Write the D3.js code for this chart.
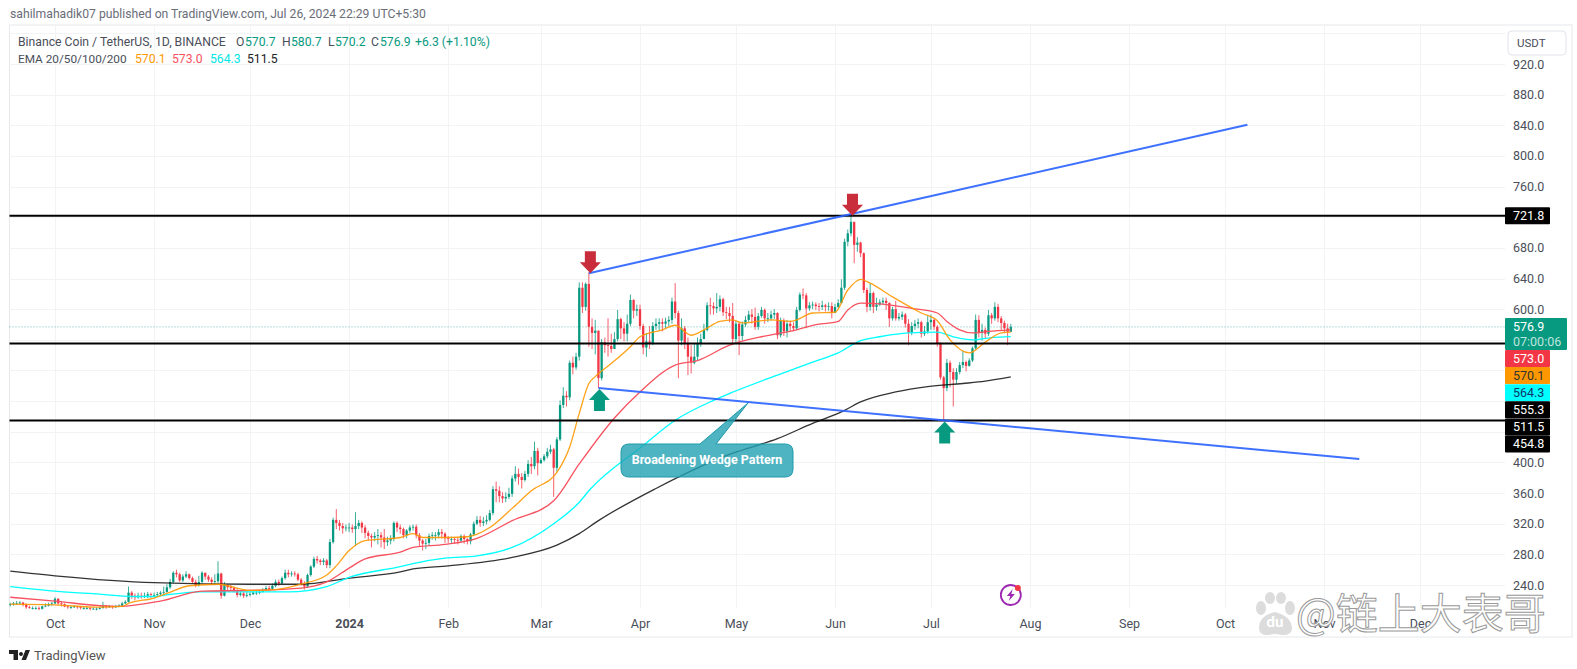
<!DOCTYPE html>
<html>
<head>
<meta charset="utf-8">
<script src="https://cdn.jsdelivr.net/npm/d3@7"></script>
<style>
  html, body { margin: 0; padding: 0; background: #fff; }
  text { font-family: Roboto, "Open Sans", sans-serif; }
</style>
</head>
<body>
<div id="chart"></div>
<script>
// daily candles, Sep 17 2023 to Jul 26 2024
var firstDay = "2023-09-17";
var firstOpen = 214;

var closes = [
  215,216,216,217,214,211,210,210,210,209,212,213,215,216,
  222,216,215,212,211,211,212,211,210,210,210,209,209,209,210,213,211,212,211,212,213,216,218,230,226,224,226,225,226,228,227,
  227,228,230,231,237,244,256,254,246,251,254,249,244,240,244,256,251,247,244,245,255,226,240,237,236,233,227,229,226,227,
  228,230,230,231,233,236,235,239,244,242,249,256,254,255,254,247,242,238,253,264,274,272,270,272,266,296,325,321,317,314,315,
  315,313,317,321,315,308,304,302,304,305,302,296,298,300,321,315,313,305,311,315,316,305,298,294,295,304,305,305,309,307,301,
  300,300,299,298,304,300,297,306,320,325,321,323,325,334,365,363,356,353,355,359,379,385,381,377,385,398,395,415,399,
  403,408,414,417,393,430,475,487,485,530,524,538,628,603,633,577,569,572,510,557,553,552,548,561,587,575,568,581,612,598,600,
  578,550,558,556,578,581,583,581,584,586,610,595,559,575,555,538,530,538,555,561,573,605,604,601,603,613,596,595,591,561,
  581,565,580,586,593,590,577,591,599,588,588,593,595,566,585,571,581,578,575,599,619,618,601,605,606,604,603,605,603,604,595,
  603,608,628,688,699,714,684,687,673,625,603,621,603,606,609,611,608,588,600,588,590,593,581,569,578,581,583,568,571,583,
  586,577,555,511,497,530,518,508,518,527,531,526,533,549,586,569,573,568,592,588,603,588,582,575,570.6,576.9
];

var highs = [
  217,218,219,219,218,216,213,212,212,212,213,216,217,218,
  224,223,218,216,214,213,214,213,212,212,212,211,211,211,212,218,214,214,213,214,215,218,220,238,232,229,230,230,230,231,230,
  230,231,232,238,241,248,258,260,256,254,258,255,251,247,252,258,256,253,250,254,271,256,244,241,240,238,236,233,232,232,
  232,233,233,234,236,239,239,242,247,247,251,260,260,258,258,256,249,245,255,266,277,278,274,275,274,300,328,339,325,321,319,
  321,319,335,325,323,318,311,307,309,313,309,313,303,305,323,323,319,315,313,318,319,319,308,300,300,307,309,309,313,313,309,
  304,303,302,302,306,306,301,308,323,330,330,329,331,338,369,375,369,361,361,367,383,395,392,386,389,403,407,427,419,
  406,411,419,423,419,433,481,498,493,533,538,543,635,635,635,648,588,586,560,561,563,588,568,570,599,589,583,593,619,613,606,
  606,581,569,578,583,588,588,588,589,591,615,634,598,588,578,563,553,555,563,568,581,609,615,609,621,618,615,603,603,608,
  585,583,584,591,598,600,602,595,603,601,595,598,600,596,589,588,586,585,583,603,622,627,621,609,610,609,608,611,607,609,609,
  607,613,639,692,704,721.8,713,694,688,674,628,634,623,615,613,615,615,609,603,611,595,597,595,587,583,586,588,585,578,591,
  593,588,579,557,513,535,533,523,523,531,546,533,536,551,593,592,581,576,599,595,609,607,591,585,581,580.7
];

var lows = [
  212,213,214,214,212,209,209,208,208,207,208,211,212,213,
  215,214,212,211,209,209,210,209,208,208,208,207,208,207,208,209,209,210,209,210,211,212,215,217,222,220,222,222,223,223,223,
  224,225,227,228,230,235,242,250,244,244,249,247,242,237,238,242,247,244,240,241,242,222,225,233,233,230,224,225,223,224,
  225,227,227,228,230,232,232,234,237,239,241,247,250,251,251,245,239,234,236,251,262,268,266,266,262,262,294,313,311,307,310,
  309,308,291,313,308,301,298,289,297,293,289,287,291,293,297,309,307,301,301,308,311,301,291,285,287,291,299,298,301,301,295,
  295,295,294,293,295,294,293,293,304,318,316,317,319,323,331,348,348,347,348,352,355,375,371,366,375,381,385,391,383,
  398,401,405,411,355,388,428,471,473,481,515,521,533,595,598,551,548,541,497,507,543,538,543,552,558,561,558,558,578,588,591,
  573,541,538,548,553,573,573,571,575,578,581,588,510,553,548,514,516,528,533,551,565,571,593,593,595,597,591,587,583,553,
  556,540,559,577,583,581,573,573,589,581,583,585,587,561,563,565,563,571,571,573,597,613,575,598,600,599,597,599,597,598,588,
  599,601,607,625,682,695,660,675,668,621,596,598,595,598,604,606,599,577,585,585,585,586,576,553,566,573,575,563,565,568,
  573,573,551,508,455,493,498,473,503,515,523,519,525,531,547,563,559,561,565,581,585,583,573,569,553,570.2
];

// EMA lines, read at the dates where the picture was measured
var ema20 = [["2023-09-17",215],["2023-10-01",214],["2023-10-15",211],["2023-10-22",212],["2023-10-24",216],["2023-11-01",223],["2023-11-05",229],["2023-11-12",239],["2023-11-21",241],["2023-12-01",233],["2023-12-09",234],["2023-12-17",241],["2023-12-25",253],["2023-12-28",265],["2024-01-01",285],["2024-01-06",298],["2024-01-17",302],["2024-01-21",307],["2024-01-24",302],["2024-02-01",302],["2024-02-07",303],["2024-02-14",315],["2024-02-21",340],["2024-02-27",363],["2024-03-06",387],["2024-03-10",420],["2024-03-13",464],["2024-03-16",503],["2024-03-18",512],["2024-03-23",529],["2024-03-29",551],["2024-04-01",564],["2024-04-08",573],["2024-04-12",579],["2024-04-17",566],["2024-04-21",573],["2024-04-26",584],["2024-04-30",586],["2024-05-03",582],["2024-05-12",586],["2024-05-18",584],["2024-05-20",586],["2024-05-25",595],["2024-06-01",596],["2024-06-05",625],["2024-06-09",639],["2024-06-12",634],["2024-06-19",616],["2024-06-28",595],["2024-07-03",585],["2024-07-07",560],["2024-07-13",543],["2024-07-18",557],["2024-07-23",569],["2024-07-26",570.1]];

var ema50 = [["2023-09-17",224],["2023-10-01",219],["2023-10-15",213],["2023-10-21",212],["2023-11-03",219],["2023-11-16",232],["2023-12-01",233],["2023-12-17",236],["2023-12-25",244],["2024-01-01",262],["2024-01-06",274],["2024-01-17",283],["2024-01-21",289],["2024-01-31",293],["2024-02-10",301],["2024-02-21",324],["2024-03-05",350],["2024-03-13",398],["2024-03-24",458],["2024-04-01",492],["2024-04-12",527],["2024-04-19",533],["2024-04-29",553],["2024-05-09",564],["2024-05-14",568],["2024-05-20",573],["2024-05-25",579],["2024-06-02",584],["2024-06-05",599],["2024-06-09",608],["2024-06-15",607],["2024-06-25",601],["2024-07-03",595],["2024-07-06",584],["2024-07-10",573],["2024-07-14",569],["2024-07-19",571],["2024-07-26",573]];

var ema100 = [["2023-09-17",238],["2023-10-01",232],["2023-10-15",228],["2023-10-25",225],["2023-11-01",225],["2023-11-05",227],["2023-11-15",231],["2023-12-01",231],["2023-12-13",231],["2023-12-25",238],["2024-01-01",250],["2024-01-17",264],["2024-01-21",268],["2024-01-31",275],["2024-02-10",278],["2024-02-21",289],["2024-03-05",320],["2024-03-13",348],["2024-03-16",363],["2024-04-02",422],["2024-04-12",455],["2024-04-24",481],["2024-04-29",490],["2024-05-14",514],["2024-05-25",531],["2024-06-02",543],["2024-06-09",559],["2024-06-15",564],["2024-06-24",569],["2024-07-03",570],["2024-07-08",564],["2024-07-14",560],["2024-07-20",563],["2024-07-26",564.3]];

var ema200 = [["2023-09-17",258],["2023-10-01",252],["2023-11-01",243],["2023-12-01",241],["2023-12-17",241],["2024-01-01",249],["2024-01-17",257],["2024-01-21",261],["2024-02-01",265],["2024-02-21",276],["2024-03-06",292],["2024-03-13",307],["2024-03-19",324],["2024-04-06",366],["2024-04-30",412],["2024-05-14",431],["2024-05-25",451],["2024-06-04",468],["2024-06-09",479],["2024-06-20",492],["2024-06-30",499],["2024-07-11",503],["2024-07-18",506],["2024-07-26",511.5]];

var priceTicks = [240,280,320,360,400,440,480,520,560,600,640,680,720,760,800,840,880,920,960];
var axisHidden = [440,480,520,560,720,960];
var monthDates = ["2023-10-01","2023-11-01","2023-12-01","2024-01-01","2024-02-01","2024-03-01","2024-04-01","2024-05-01","2024-06-01","2024-07-01","2024-08-01","2024-09-01","2024-10-01","2024-11-01","2024-12-01"];
var monthLabels = ["Oct","Nov","Dec","2024","Feb","Mar","Apr","May","Jun","Jul","Aug","Sep","Oct","Nov","Dec"];

var levels = [721.8, 555.3, 454.8];
var lastPrice = 576.9;
var emaTagValues = [573.0, 570.1, 564.3, 555.3, 511.5, 454.8];
var emaTagFill = ["#f23645","#ff9800","#00ffff","#000","#000","#000"];
var emaTagText = ["#fff","#333","#136","#fff","#fff","#fff"];

var upperLine = [["2024-03-16",647],["2024-10-08",840.7]];
var lowerLine = [["2024-03-19",497],["2024-11-12",404.4]];
var downArrows = [["2024-03-16",647],["2024-06-06",722]];
var upArrows = [["2024-03-19",497],["2024-07-05",454.8]];

var width = 1577, height = 669;
var plotLeft = 9.5, plotRight = 1505, plotTop = 25, plotBottom = 608;

var green = "#089981", red = "#f23645";
var parseDay = d3.utcParse("%Y-%m-%d");

var svg = d3.select("#chart")
  .append("svg")
    .attr("width", width)
    .attr("height", height)
    .style("display", "block");

var x = d3.scaleUtc()
  .domain([parseDay("2023-10-01"), parseDay("2024-12-01")])
  .range([55, 1420]);

var y = d3.scaleLinear()
  .domain([240, 920])
  .range([585, 64]);

// frame
svg.append("rect")
  .attr("x", plotLeft).attr("y", plotTop)
  .attr("width", 1572 - plotLeft).attr("height", 637 - plotTop)
  .attr("fill", "none").attr("stroke", "#e6e8ec");

// grid
svg.append("g").selectAll("line")
  .data(priceTicks)
  .enter().append("line")
    .attr("x1", plotLeft).attr("x2", plotRight)
    .attr("y1", function(d) { return Math.round(y(d)) + 0.5; })
    .attr("y2", function(d) { return Math.round(y(d)) + 0.5; })
    .attr("stroke", "#f2f3f5");

svg.append("g").selectAll("line")
  .data(monthDates)
  .enter().append("line")
    .attr("x1", function(d) { return Math.round(x(parseDay(d))) + 0.5; })
    .attr("x2", function(d) { return Math.round(x(parseDay(d))) + 0.5; })
    .attr("y1", plotTop).attr("y2", plotBottom)
    .attr("stroke", "#f2f3f5");

// X axis
var timeAxis = svg.append("g")
  .attr("transform", "translate(0," + plotBottom + ")")
  .call(d3.axisBottom(x)
    .tickValues(monthDates.map(parseDay))
    .tickSize(0)
    .tickPadding(11)
    .tickFormat(function(d, i) { return monthLabels[i]; }));
timeAxis.select(".domain").remove();
timeAxis.selectAll("text")
  .attr("fill", "#4a4e59")
  .style("font-size", "12.5px")
  .style("font-family", "Roboto, sans-serif")
  .style("font-weight", function(d, i) { return monthLabels[i] === "2024" ? "700" : "400"; });

// Y axis
var priceAxis = svg.append("g")
  .attr("transform", "translate(" + plotRight + ",0)")
  .call(d3.axisRight(y)
    .tickValues(priceTicks.filter(function(d) { return axisHidden.indexOf(d) < 0; }))
    .tickSize(0)
    .tickPadding(8)
    .tickFormat(d3.format(".1f")));
priceAxis.select(".domain").remove();
priceAxis.selectAll("text")
  .attr("fill", "#4a4e59")
  .style("font-size", "12.5px")
  .style("font-family", "Roboto, sans-serif");

// last price dots
svg.append("line")
  .attr("x1", plotLeft).attr("x2", plotRight)
  .attr("y1", y(lastPrice)).attr("y2", y(lastPrice))
  .attr("stroke", green).attr("stroke-opacity", 0.6)
  .attr("stroke-dasharray", "1 2");

// candles
var candles = closes.map(function(c, i) {
  return {
    day: d3.utcDay.offset(parseDay(firstDay), i),
    open: i === 0 ? firstOpen : closes[i - 1],
    close: c,
    high: highs[i],
    low: lows[i]
  };
});

var candle = svg.append("g").selectAll("g")
  .data(candles)
  .enter().append("g");

candle.append("line")
  .attr("x1", function(d) { return x(d.day); })
  .attr("x2", function(d) { return x(d.day); })
  .attr("y1", function(d) { return y(Math.max(d.high, d.open, d.close)); })
  .attr("y2", function(d) { return y(Math.min(d.low, d.open, d.close)); })
  .attr("stroke", function(d) { return d.close >= d.open ? green : red; })
  .attr("stroke-width", 0.8);

candle.append("rect")
  .attr("x", function(d) { return x(d.day) - 1.15; })
  .attr("width", 2.3)
  .attr("y", function(d) { return y(Math.max(d.open, d.close)); })
  .attr("height", function(d) { return Math.max(0.8, Math.abs(y(d.open) - y(d.close))); })
  .attr("fill", function(d) { return d.close >= d.open ? green : red; });

// EMAs
var emaLine = d3.line()
  .curve(d3.curveMonotoneX)
  .x(function(d) { return x(parseDay(d[0])); })
  .y(function(d) { return y(d[1]); });

svg.append("path").attr("d", emaLine(ema200)).attr("fill", "none").attr("stroke", "#000").attr("stroke-opacity", 0.8).attr("stroke-width", 1.3);
svg.append("path").attr("d", emaLine(ema100)).attr("fill", "none").attr("stroke", "#00ffff").attr("stroke-width", 1.3);
svg.append("path").attr("d", emaLine(ema50)).attr("fill", "none").attr("stroke", "#f7525f").attr("stroke-width", 1.3);
svg.append("path").attr("d", emaLine(ema20)).attr("fill", "none").attr("stroke", "#ff9800").attr("stroke-opacity", 0.9).attr("stroke-width", 1.3);

// horizontal levels
svg.append("g").selectAll("line")
  .data(levels)
  .enter().append("line")
    .attr("x1", plotLeft).attr("x2", plotRight)
    .attr("y1", function(d) { return y(d); })
    .attr("y2", function(d) { return y(d); })
    .attr("stroke", "#000")
    .attr("stroke-width", 2);

// wedge lines
var straight = d3.line()
  .x(function(d) { return x(parseDay(d[0])); })
  .y(function(d) { return y(d[1]); });

[upperLine, lowerLine].forEach(function(l) {
  svg.append("path")
    .attr("d", straight(l))
    .attr("fill", "none")
    .attr("stroke", "#2962ff")
    .attr("stroke-opacity", 0.9)
    .attr("stroke-width", 2);
});

// arrows, tip on the anchor point
var arrowShape = "M0,0 L-10.5,-11 L-5.5,-11 L-5.5,-22 L5.5,-22 L5.5,-11 L10.5,-11 Z";
svg.append("g").selectAll("path")
  .data(downArrows)
  .enter().append("path")
    .attr("d", arrowShape)
    .attr("fill", "#c92c3a")
    .attr("transform", function(d) { return "translate(" + (x(parseDay(d[0])) + 1.5) + "," + y(d[1]) + ")"; });
svg.append("g").selectAll("path")
  .data(upArrows)
  .enter().append("path")
    .attr("d", arrowShape)
    .attr("fill", green)
    .attr("transform", function(d) { return "translate(" + (x(parseDay(d[0])) + 1) + "," + (y(d[1]) + 1) + ") scale(1,-1)"; });

// callout
svg.append("path")
  .attr("d", "M629,444 H700 L748,403 L716,444 H785 Q793,444 793,452 V469 Q793,477 785,477 H629 Q621,477 621,469 V452 Q621,444 629,444 Z")
  .attr("fill", "#22a1b2")
  .attr("fill-opacity", 0.8)
  .attr("stroke", "#1e9aab")
  .attr("stroke-width", 1);
svg.append("text")
  .attr("x", 707).attr("y", 464)
  .attr("text-anchor", "middle")
  .attr("fill", "#fff")
  .style("font-size", "12.5px")
  .style("font-weight", "700")
  .text("Broadening Wedge Pattern");

// price tags on the right
function priceTag(top, w, h, fill) {
  svg.append("rect")
    .attr("x", plotRight).attr("y", top)
    .attr("width", w).attr("height", h)
    .attr("rx", 1)
    .attr("fill", fill);
}
function tagText(txt, yy, fill) {
  svg.append("text")
    .attr("x", 1513).attr("y", yy)
    .attr("dy", "0.35em")
    .attr("fill", fill)
    .style("font-size", "12.5px")
    .text(txt);
}

priceTag(y(721.8) - 8.5, 45, 17, "#000");
tagText("721.8", y(721.8), "#fff");

priceTag(318, 62, 32, green);
tagText("576.9", 326.5, "#fff");
tagText("07:00:06", 342, "#bfe5dd");

emaTagValues.forEach(function(v, i) {
  var top = 350 + i * 17.1;
  priceTag(top, 45, 17, emaTagFill[i]);
  tagText(d3.format(".1f")(v), top + 8.5, emaTagText[i]);
});

// USDT button
svg.append("rect")
  .attr("x", 1508).attr("y", 31)
  .attr("width", 58).attr("height", 24)
  .attr("rx", 4)
  .attr("fill", "#fff")
  .attr("stroke", "#e0e3eb");
svg.append("text")
  .attr("x", 1517).attr("y", 43)
  .attr("dy", "0.35em")
  .attr("fill", "#4a4e59")
  .style("font-size", "11.5px")
  .text("USDT");

// header and legend
function label(txt, xx, yy, fill, size) {
  return svg.append("text")
    .attr("x", xx).attr("y", yy)
    .attr("dy", "0.35em")
    .attr("fill", fill)
    .style("font-size", (size || 12.2) + "px")
    .text(txt);
}

label("sahilmahadik07 published on TradingView.com, Jul 26, 2024 22:29 UTC+5:30", 10, 14, "#6a6d78");

var grey = "#4a4e59";
label("Binance Coin / TetherUS, 1D, BINANCE", 18, 42, grey);
label("O", 236, 42, grey);
label("570.7", 245, 42, green);
label("H", 282, 42, grey);
label("580.7", 291, 42, green);
label("L", 328, 42, grey);
label("570.2", 335, 42, green);
label("C", 371, 42, grey);
label("576.9", 380, 42, green);
label("+6.3 (+1.10%)", 415, 42, green);

label("EMA 20/50/100/200", 18, 59, grey, 11.8);
label("570.1", 135, 59, "#ff9800");
label("573.0", 172, 59, "#f7525f");
label("564.3", 210, 59, "#00e5e5");
label("511.5", 247, 59, "#222");

// TradingView logo
svg.append("path")
  .attr("d", "M9,650 H18 V660 H13.5 V654 H9 Z M21,652 a2,2 0 1,0 0.01,0 M21.5,660 L25.5,650 H30 L26,660 Z")
  .attr("fill", "#222");
label("TradingView", 34, 655, "#555", 13);

// flash icon under the last candle
var icon = svg.append("g").attr("transform", "translate(" + x(candles[candles.length - 1].day) + ",595)");
icon.append("circle").attr("r", 10).attr("fill", "#fff").attr("stroke", "#9c27b0").attr("stroke-width", 1.8);
icon.append("path").attr("d", "M2,-6 L-4,1 H-0.5 L-2,6 L4,-1 H0.5 Z").attr("fill", "#9c27b0");
icon.append("circle").attr("cx", 7).attr("cy", -7).attr("r", 3).attr("fill", "#f23645");

// baidu watermark
var wm = svg.append("g");
var paw = wm.append("g").attr("transform", "translate(1275,615)").attr("fill", "#dcdcdc");
paw.append("ellipse").attr("cx", -14).attr("cy", -7).attr("rx", 5).attr("ry", 7);
paw.append("ellipse").attr("cx", -5).attr("cy", -17).attr("rx", 5).attr("ry", 6);
paw.append("ellipse").attr("cx", 6).attr("cy", -17).attr("rx", 5).attr("ry", 6);
paw.append("ellipse").attr("cx", 15).attr("cy", -7).attr("rx", 5).attr("ry", 7);
paw.append("path").attr("d", "M-16,13 Q-16,1 0,-3 Q16,1 17,13 Q17,21 6,20 Q0,18 -6,20 Q-16,21 -16,13 Z");
wm.append("text")
  .attr("x", 1275).attr("y", 627)
  .attr("text-anchor", "middle")
  .attr("fill", "#fff")
  .style("font-size", "15px")
  .style("font-weight", "700")
  .text("du");
wm.append("text")
  .attr("x", 1296).attr("y", 629)
  .attr("fill", "#fff")
  .attr("stroke", "#9a9a9a")
  .attr("stroke-width", 1)
  .style("font-family", "'Noto Sans CJK SC', sans-serif")
  .style("font-size", "42px")
  .text("@链上大表哥");
</script>
</body>
</html>
